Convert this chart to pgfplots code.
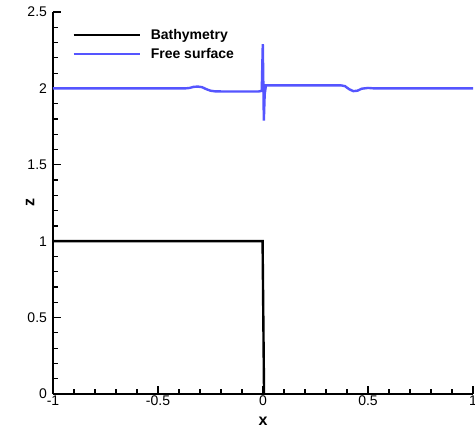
\documentclass[border=0pt]{standalone}
\usepackage{fontspec}
\setmainfont{Liberation Sans}
\usepackage{pgfplots}
\pgfplotsset{compat=1.18}
\definecolor{fsblue}{RGB}{85,85,255}

\begin{document}
\begin{tikzpicture}
\begin{axis}[
    scale only axis,
    width=315pt, height=286.5pt,
    xmin=-1, xmax=1, ymin=0, ymax=2.5,
    axis lines=left,
    axis line style={-, line width=1.5pt},
    xtick={-1,-0.5,0,0.5,1},
    ytick={0,0.5,1,1.5,2,2.5},
    minor x tick num=4,
    minor y tick num=4,
    tick align=inside,
    major tick length=6pt,
    minor tick length=3.5pt,
    every tick/.style={black, line width=0.9pt},
    /pgf/number format/assume math mode=true,
    x tick label style={font=\fontsize{10.5}{12}\selectfont, yshift=2pt},
    y tick label style={font=\fontsize{10.5}{12}\selectfont, xshift=-1pt},
    xticklabels={-1,-0.5,0,0.5,1},
    yticklabels={0,0.5,1,1.5,2,2.5},
    xlabel={\textbf{x}},
    ylabel={\textbf{z}},
    xlabel style={font=\fontsize{12}{14}\selectfont, yshift=-1.5pt},
    ylabel style={font=\fontsize{12}{14}\selectfont, yshift=-12pt},
    legend style={draw=none, fill=none, at={(0.036,0.97)}, anchor=north west,
        font=\fontsize{10.5}{12}\selectfont\bfseries, row sep=1pt,
        cells={anchor=west}},
    legend image code/.code={\draw[#1] (0pt,0pt) -- (50pt,0pt); \path (55pt,0pt);},
    clip=false,
]
\addplot[black, line width=1.8pt] coordinates {
    (-1,1) (-0.002,1) (0.005,0)
};
\addplot[fsblue, line width=1.8pt] coordinates {
    (-1,2.0) (-0.37,2.0) (-0.35,2.003) (-0.33,2.01) (-0.31,2.012)
    (-0.29,2.008) (-0.27,1.995) (-0.25,1.985) (-0.23,1.981) (-0.2,1.98)
    (-0.02,1.98) (-0.006,1.984) (-0.001,2.29) (0.004,1.79) (0.008,1.96)
    (0.014,2.02) (0.37,2.02) (0.39,2.015) (0.41,1.995) (0.43,1.982)
    (0.45,1.985) (0.47,1.998) (0.5,2.003) (0.53,2.0) (1,2.0)
};
\legend{Bathymetry,Free surface}
\end{axis}
\pgfresetboundingbox
\useasboundingbox (-39.75pt,-30.75pt) rectangle (316.5pt,295.5pt);
\end{tikzpicture}
\end{document}
